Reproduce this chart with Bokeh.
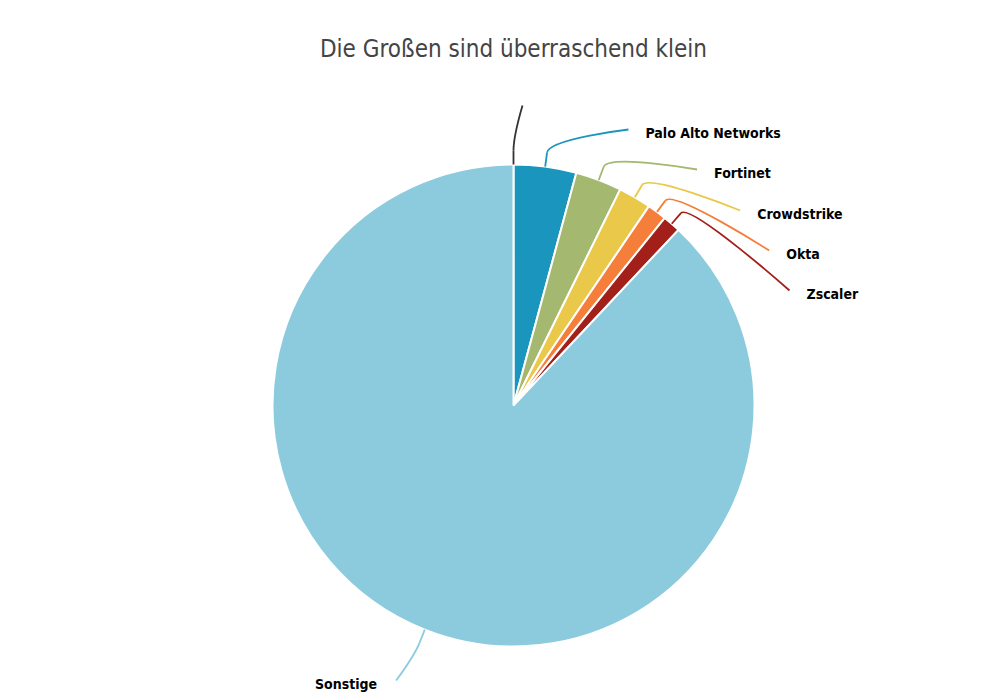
from math import pi, sin, cos, sqrt

from bokeh.core.properties import value
from bokeh.embed import file_html
from bokeh.models import ColumnDataSource, Range1d
from bokeh.plotting import figure
from bokeh.resources import INLINE


# Marktanteile in Prozent, im Uhrzeigersinn ab 12 Uhr
names = ["", "Palo Alto Networks", "Fortinet", "Crowdstrike", "Okta", "Zscaler", "Sonstige"]
shares = [0.0, 4.2, 3.1, 2.2, 1.3, 1.2, 88.0]
colors = ["#333333", "#1a96be", "#a4b96f", "#e9c84a", "#f57f3a", "#a3201a", "#8ccbdd"]
title_text = "Die Großen sind überraschend klein"

# layout (page pixels)
W, H = 1000, 699
label_y = [108, 132, 172, 213, 253, 293, 683]


def px(x):
    return x


def py(y):
    return H - y


CX, CY, R = px(513), py(405), 241
BREAK_R = R + 14
LABEL_R = 299

total = sum(shares)
starts, ends = [], []
acc = 0.0
for s in shares:
    starts.append(pi / 2 - acc / total * 2 * pi)
    acc += s
    ends.append(pi / 2 - acc / total * 2 * pi)

source = ColumnDataSource(data=dict(name=names, share=shares, color=colors,
                                    start=starts, end=ends))

p = figure(width=W, height=H, x_range=Range1d(0, W), y_range=Range1d(0, H),
           x_axis_type=None, y_axis_type=None, min_border=0,
           toolbar_location=None, output_backend="svg")
p.grid.visible = False
p.outline_line_color = None

p.wedge(x=CX, y=CY, radius=R, start_angle="start", end_angle="end", direction="clock",
        fill_color="color", line_color="white", line_width=2, source=source)

# connectors + labels
bx0, by0, bx1, by1, bcx0, bcy0, bcx1, bcy1, bcol = [], [], [], [], [], [], [], [], []
sx0, sy0, sx1, sy1 = [], [], [], []
tx, ty, tt, talign = [], [], [], []
acc = 0.0
for i, s in enumerate(shares):
    mid = (acc + s / 2) / total * 2 * pi
    acc += s
    ux, uy = sin(mid), cos(mid)
    tx_s, ty_s = CX + R * ux, CY + R * uy
    bx, by = CX + BREAK_R * ux, CY + BREAK_R * uy
    ey = py(label_y[i] - 3)
    right = ux >= 0
    if names[i]:
        off = sqrt(max(LABEL_R ** 2 - (ey - CY) ** 2, 0))
        ex = CX + off if right else CX - off
    else:
        ex = CX + 9
    bx0.append(ex); by0.append(ey); bx1.append(bx); by1.append(by)
    bcx0.append(ex); bcy0.append(ey)
    bcx1.append(2 * bx - tx_s); bcy1.append(2 * by - ty_s)
    bcol.append(colors[i])
    sx0.append(bx); sy0.append(by); sx1.append(tx_s); sy1.append(ty_s)
    if names[i]:
        tx.append(ex + 17 if right else ex - 19)
        ty.append(py(label_y[i]))
        tt.append(names[i])
        talign.append("left" if right else "right")

p.bezier(x0=bx0, y0=by0, x1=bx1, y1=by1, cx0=bcx0, cy0=bcy0, cx1=bcx1, cy1=bcy1,
         line_color=bcol, line_width=1.8)
p.segment(x0=sx0, y0=sy0, x1=sx1, y1=sy1, line_color=bcol, line_width=1.8)

p.text(x=tx, y=ty, text=tt, text_align=talign, text_baseline="middle",
       text_font=value("DejaVu Sans Condensed, Roboto"), text_font_style="bold",
       text_font_size="14px", text_color="#000000")

p.text(x=[CX], y=[py(48)], text=[title_text], text_align="center", text_baseline="middle",
       text_font=value("DejaVu Sans Condensed, Roboto"), text_font_size="24px",
       text_color="#444444")

open("out.html", "w").write(file_html(p, INLINE))
